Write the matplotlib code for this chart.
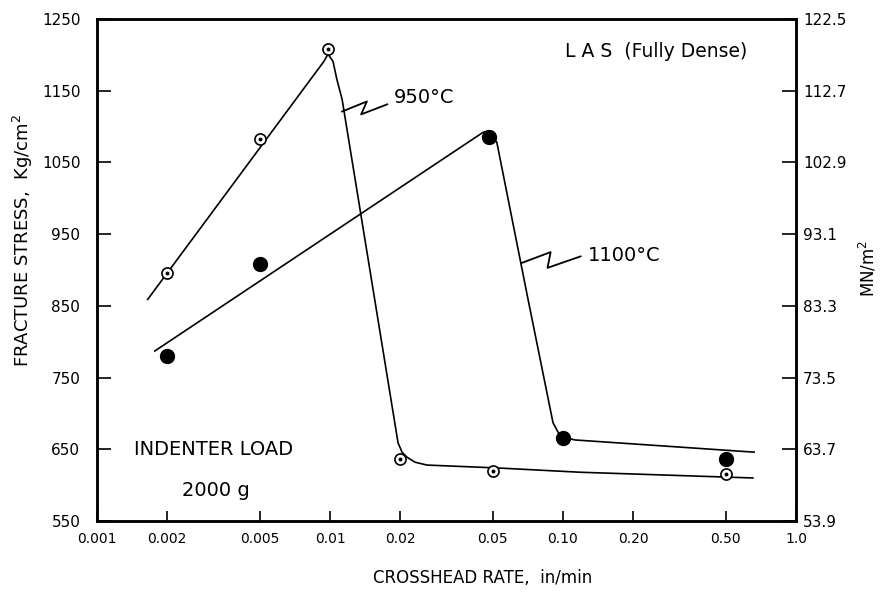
"""Fracture stress vs crosshead rate for LAS (fully dense), 950 and 1100 C."""
import matplotlib
matplotlib.use("Agg")
import matplotlib.pyplot as plt

plt.rcParams["font.family"] = ["DejaVu Sans"]

# measured points
rate_950 = [0.002, 0.005, 0.0098, 0.0200, 0.050, 0.50]
stress_950 = [896, 1082, 1208, 637, 620, 616]
rate_1100 = [0.002, 0.005, 0.048, 0.100, 0.50]
stress_1100 = [780, 908, 1085, 666, 637]

# hand-drawn fitted curves
curve_950_x = [0.00165, 0.00942, 0.0098, 0.0103, 0.0107, 0.01127, 0.01959,
               0.02037, 0.0214, 0.02316, 0.02607, 0.052, 0.1183, 0.653]
curve_950_y = [859, 1191, 1201, 1191, 1166, 1138, 659,
               646, 639, 632, 628, 624, 618, 610]
curve_1100_x = [0.00177, 0.0454, 0.0477, 0.0501, 0.052, 0.0708, 0.0906,
                0.0952, 0.100, 0.1127, 0.661]
curve_1100_y = [787, 1092, 1094, 1085, 1078, 859, 687,
                674, 667, 663, 646]

# label leaders
leader_950_x = [0.01127, 0.01440, 0.01360, 0.01760]
leader_950_y = [1121, 1135, 1117, 1131]
leader_1100_x = [0.0667, 0.0885, 0.0858, 0.1190]
leader_1100_y = [910, 925, 903, 919]

x_ticks = [0.001, 0.002, 0.005, 0.01, 0.02, 0.05, 0.10, 0.20, 0.50, 1.0]
x_labels = ["0.001", "0.002", "0.005", "0.01", "0.02", "0.05", "0.10",
            "0.20", "0.50", "1.0"]
y_ticks = [550, 650, 750, 850, 950, 1050, 1150, 1250]
mn_factor = 0.098

fig = plt.figure(figsize=(8.84, 5.93), dpi=100)
ax = fig.add_axes([97 / 884, 1 - 521 / 593, (796 - 97) / 884, (521 - 19) / 593])

ax.plot(curve_950_x, curve_950_y, color="black", lw=1.2)
ax.plot(curve_1100_x, curve_1100_y, color="black", lw=1.2)
ax.plot(leader_950_x, leader_950_y, color="black", lw=1.3)
ax.plot(leader_1100_x, leader_1100_y, color="black", lw=1.3)

ax.plot(rate_950, stress_950, "o", ms=8, mfc="white", mec="black", mew=1.2, zorder=5)
ax.plot(rate_950, stress_950, "o", ms=1.8, color="black", zorder=6)
ax.plot(rate_1100, stress_1100, "o", ms=10, color="black", zorder=5)

ax.set_xscale("log")
ax.set_xlim(0.001, 1.0)
ax.set_ylim(550, 1250)
ax.set_xticks(x_ticks)
ax.set_xticklabels(x_labels, fontsize=10)
ax.xaxis.set_minor_locator(matplotlib.ticker.NullLocator())
ax.set_yticks(y_ticks)
ax.set_yticklabels([str(v) for v in y_ticks], fontsize=11)
ax.tick_params(axis="x", direction="in", length=7, width=1.2, pad=8)
ax.tick_params(axis="y", direction="in", length=10, width=1.2, pad=12)
for s in ax.spines.values():
    s.set_linewidth(1.8)

ax2 = ax.twinx()
ax2.set_ylim(550 * mn_factor, 1250 * mn_factor)
ax2.set_yticks([v * mn_factor for v in y_ticks])
ax2.set_yticklabels([f"{v * mn_factor:.1f}" for v in y_ticks], fontsize=11)
ax2.tick_params(axis="y", direction="in", length=10, width=1.2, pad=5)
for s in ax2.spines.values():
    s.set_linewidth(1.8)

ax.text(0.0188, 1141, "950°C", fontsize=14, ha="left", va="center")
ax.text(0.128, 920, "1100°C", fontsize=14, ha="left", va="center")
ax.text(0.67, 0.935, "L A S  (Fully Dense)", transform=ax.transAxes,
        fontsize=13.5, ha="left", va="center")
ax.text(0.167, 0.143, "INDENTER LOAD", transform=ax.transAxes,
        fontsize=14, ha="center", va="center")
ax.text(0.170, 0.06, "2000 g", transform=ax.transAxes,
        fontsize=14, ha="center", va="center")

fig.text(483 / 884, 1 - 578 / 593, "CROSSHEAD RATE,  in/min", fontsize=12,
         ha="center", va="center")
fig.text(23 / 884, 1 - 240 / 593, "FRACTURE STRESS,  Kg/cm$^2$", fontsize=13,
         rotation=90, ha="center", va="center")
fig.text(868 / 884, 1 - 268 / 593, "MN/m$^2$", fontsize=12,
         rotation=90, ha="center", va="center")

fig.savefig("out.png", dpi=100)
